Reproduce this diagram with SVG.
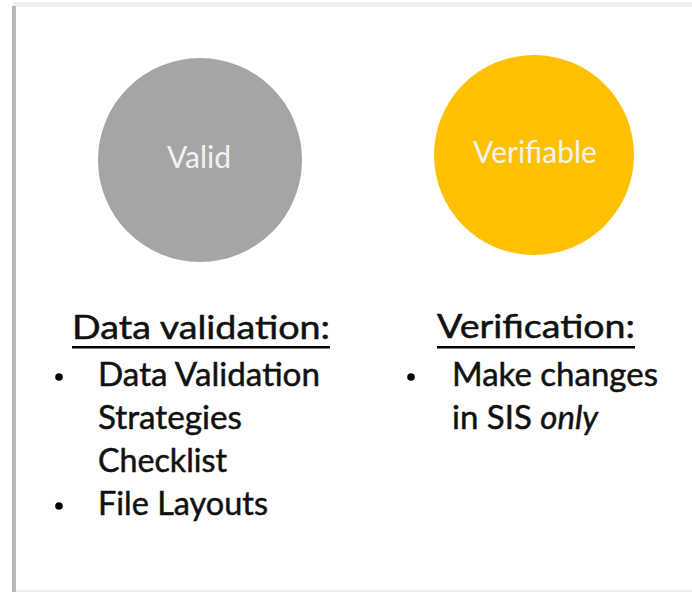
<svg xmlns="http://www.w3.org/2000/svg" width="692" height="592" viewBox="0 0 692 592">
<style>
.t{font-family:Lato,"Liberation Sans",sans-serif;fill:#111;stroke:#111;stroke-width:0.5;font-size:33px}
.c{font-family:Lato,"Liberation Sans",sans-serif;fill:#f2f2f2;font-size:30px;text-anchor:middle}
.b{fill:#000}
</style>
<rect x="0" y="0" width="692" height="592" fill="#ffffff"/>
<rect x="13" y="2" width="679" height="5" fill="#efefef"/>
<rect x="12" y="6" width="4" height="586" fill="#b8b8b8"/>
<rect x="16" y="590" width="676" height="2" fill="#ededed"/>
<g id="valid">
<circle cx="200" cy="160" r="102" fill="#a5a5a5"/>
<text class="c" x="199" y="168">Valid</text>
</g>
<g id="verifiable">
<circle cx="534" cy="155" r="100" fill="#ffc000"/>
<text class="c" x="535" y="163">Verifiable</text>
</g>
<g id="data-validation">
<text class="t" x="72" y="339" textLength="258" lengthAdjust="spacingAndGlyphs">Data validation:</text>
<rect x="72" y="346" width="258" height="2.5" fill="#000"/>
<circle class="b" cx="59" cy="377" r="3.8"/>
<text class="t" x="98" y="386" textLength="222" lengthAdjust="spacingAndGlyphs">Data Validation</text>
<text class="t" x="98" y="429" textLength="144" lengthAdjust="spacingAndGlyphs">Strategies</text>
<text class="t" x="98" y="472" textLength="129" lengthAdjust="spacingAndGlyphs">Checklist</text>
<circle class="b" cx="59" cy="506" r="3.8"/>
<text class="t" x="98" y="515" textLength="170" lengthAdjust="spacingAndGlyphs">File Layouts</text>
</g>
<g id="verification">
<text class="t" x="437" y="338" textLength="198" lengthAdjust="spacingAndGlyphs">Verification:</text>
<rect x="437" y="346" width="198" height="2.5" fill="#000"/>
<circle class="b" cx="411" cy="377" r="3.8"/>
<text class="t" x="452" y="386" textLength="206" lengthAdjust="spacingAndGlyphs">Make changes</text>
<text class="t" x="452" y="429">in SIS <tspan font-style="italic">only</tspan></text>
</g>
<g id="connectors"></g>
</svg>
